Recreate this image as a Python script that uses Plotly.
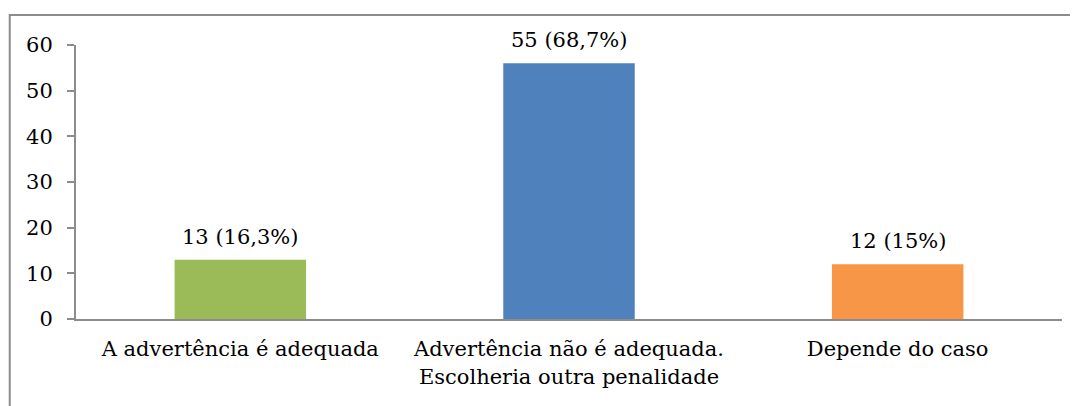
import plotly.graph_objects as go

categories = ["A advertência é adequada",
              "Advertência não é adequada.<br>Escolheria outra penalidade",
              "Depende do caso"]
values = [13, 56, 12]
labels = ["13 (16,3%)", "55 (68,7%)", "12 (15%)"]
colors = ["#9BBB59", "#4F81BD", "#F79646"]

FONT = "DejaVu Serif"
SIZE = 21

fig = go.Figure()
fig.add_trace(go.Bar(
    x=categories,
    y=values,
    marker=dict(color=colors, line=dict(width=0)),
    width=0.4,
    showlegend=False,
))

# rotulos acima das barras
for c, v, t in zip(categories, values, labels):
    fig.add_annotation(x=c, y=v, text=t, showarrow=False,
                       yanchor="bottom", yshift=9,
                       font=dict(family=FONT, size=SIZE, color="black"))

# moldura do grafico (so topo e esquerda visiveis)
fig.add_shape(type="rect", xref="paper", yref="paper",
              x0=-0.0672, x1=1.2, y0=-0.5, y1=1.1095,
              line=dict(color="#8c8c8c", width=2), layer="below")

fig.update_layout(
    width=1070, height=398,
    margin=dict(l=68, r=16, t=37, b=87),
    paper_bgcolor="white", plot_bgcolor="white",
    font=dict(family=FONT, size=SIZE, color="black"),
)
fig.update_xaxes(showline=True, linecolor="#8c8c8c", linewidth=2,
                 ticks="", showgrid=False, tickfont=dict(size=SIZE),
                 ticklabelstandoff=10)
fig.update_yaxes(range=[0, 60], dtick=10, showline=True, linecolor="#8c8c8c",
                 linewidth=2, ticks="outside", ticklen=7, tickcolor="#8c8c8c",
                 tickwidth=2, showgrid=False, zeroline=False,
                 tickfont=dict(size=SIZE), ticklabelstandoff=10)

fig.write_html("out.html")
